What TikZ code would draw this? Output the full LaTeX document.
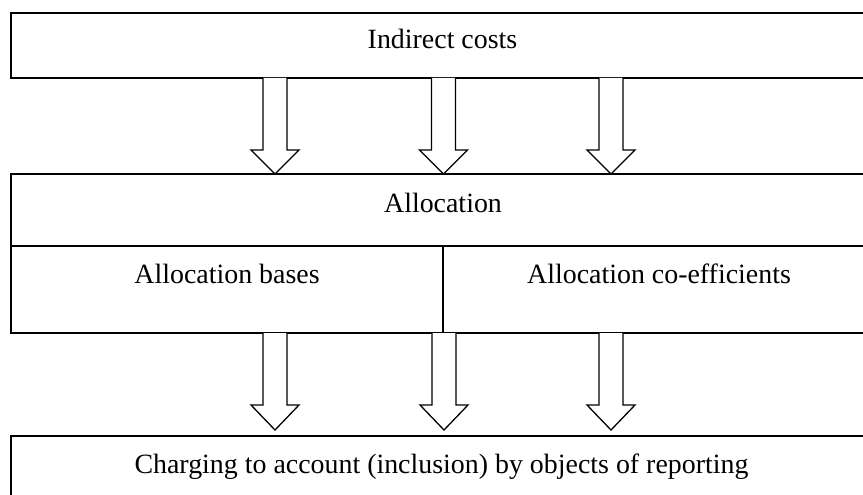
\documentclass[tikz,border=0pt]{standalone}
\usepackage{fontspec}
\setmainfont{Liberation Serif}
\usetikzlibrary{calc}
\begin{document}
\begin{tikzpicture}[x=1pt,y=-1pt,
  boxline/.style={draw=black,line width=1.5pt},
  lbl/.style={anchor=base,inner sep=0pt,font=\fontsize{27.9}{30}\selectfont},
  fatarr/.style={draw=black,line width=1.3pt,fill=white,line join=miter}]
\useasboundingbox (0,0) rectangle (863,495);
\clip (0,0) rectangle (863,495);
% boxes
\coordinate (tl) at (11,13);   \coordinate (tr) at (880,78);
\coordinate (ml) at (11,174);  \coordinate (mr) at (880,333);
\coordinate (bl) at (11,436);  \coordinate (br) at (880,540);
\draw[boxline] (tl) rectangle (tr);
\draw[boxline] (ml) rectangle (mr);
\draw[boxline] (11,246) -- (880,246);
\draw[boxline] (443,246) -- (443,333);
\draw[boxline] (bl) rectangle (br);
% labels
\node[lbl] (indirect) at (442.5,49) {Indirect costs};
\node[lbl] (alloc) at (443,212) {Allocation};
\node[lbl] (bases) at (227,283) {Allocation bases};
\node[lbl] (coef) at (659,283) {Allocation co-efficients};
\node[lbl] (charge) at (441.5,473) {Charging to account (inclusion) by objects of reporting};
% fat arrows: top row
\foreach \cx in {275,443.5,611}{
  \draw[fatarr] (\cx-12,78) -- (\cx-12,150) -- (\cx-24,150) -- (\cx,174)
     -- (\cx+24,150) -- (\cx+12,150) -- (\cx+12,78);
}
% fat arrows: bottom row
\foreach \cx in {275,444,611}{
  \draw[fatarr] (\cx-12,333) -- (\cx-12,405) -- (\cx-24,405) -- (\cx,430)
     -- (\cx+24,405) -- (\cx+12,405) -- (\cx+12,333);
}
\end{tikzpicture}
\end{document}
